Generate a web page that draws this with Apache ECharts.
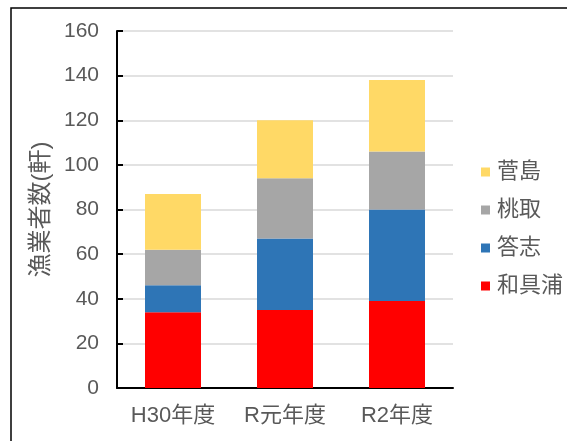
<!DOCTYPE html>
<html>
<head>
<meta charset="utf-8">
<style>
html,body{margin:0;padding:0;background:#fff;}
#chart{width:567px;height:441px;}
</style>
<script src="https://cdn.jsdelivr.net/npm/echarts@6/dist/echarts.min.js"></script>
</head>
<body>
<div id="chart"></div>
<script>
const categories = ['H30年度', 'R元年度', 'R2年度'];
const wagura = [34, 35, 39];
const toushi = [12, 32, 41];
const momotori = [16, 27, 26];
const sugashima = [25, 26, 32];
const legendOrder = ['菅島', '桃取', '答志', '和具浦'];
const yAxisName = '漁業者数(軒)';

const font = '"Liberation Sans", "Noto Sans CJK JP", sans-serif';
const textColor = '#595959';

const chart = echarts.init(document.getElementById('chart'), null, {renderer: 'canvas'});
function mk(name, data, color) {
  return {
    name: name, type: 'bar', stack: 'total', data: data, barWidth: '50%',
    itemStyle: {color: color}
  };
}
chart.setOption({
  animation: false,
  backgroundColor: '#fff',
  graphic: [{
    type: 'rect', silent: true,
    shape: {x: 11, y: 8, width: 700, height: 600},
    style: {fill: 'none', stroke: '#000', lineWidth: 1.5}
  }],
  grid: {left: 117, right: 114, top: 31, bottom: 53},
  legend: {
    orient: 'vertical', left: 476, top: 156,
    data: legendOrder,
    itemWidth: 9, itemHeight: 9, itemGap: 16, icon: 'rect',
    textStyle: {fontFamily: font, fontSize: 22, color: textColor, lineHeight: 22, padding: [0, 0, 0, 2]}
  },
  xAxis: {
    type: 'category', data: categories,
    axisLine: {lineStyle: {color: '#000', width: 2}},
    axisTick: {inside: true, length: 6, lineStyle: {color: '#000', width: 2}},
    axisLabel: {fontFamily: font, fontSize: 22, color: textColor, margin: 17}
  },
  yAxis: {
    type: 'value', min: 0, max: 160, interval: 20,
    name: yAxisName, nameLocation: 'middle', nameRotate: 90, nameGap: 61,
    nameTextStyle: {fontFamily: font, fontSize: 24, lineHeight: 24, color: textColor},
    axisLine: {show: true, lineStyle: {color: '#000', width: 2}},
    axisTick: {show: true, inside: true, length: 6, lineStyle: {color: '#000', width: 2}},
    axisLabel: {fontFamily: font, fontSize: 21, color: textColor, margin: 18},
    splitLine: {lineStyle: {color: '#d9d9d9', width: 1.5}}
  },
  series: [
    mk('和具浦', wagura, '#FF0000'),
    mk('答志', toushi, '#2E75B6'),
    mk('桃取', momotori, '#A6A6A6'),
    mk('菅島', sugashima, '#FFD966')
  ]
});
</script>
</body>
</html>
